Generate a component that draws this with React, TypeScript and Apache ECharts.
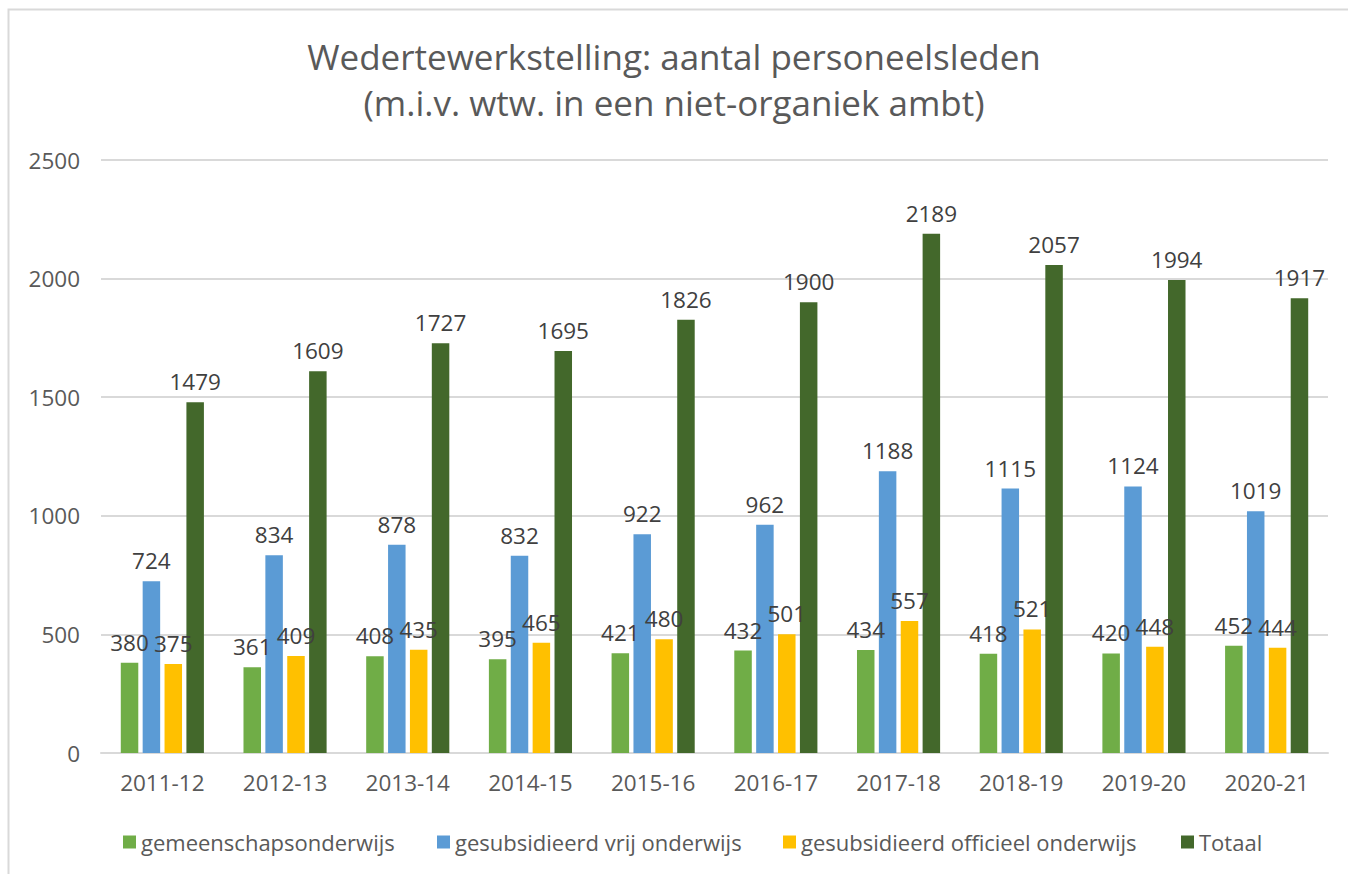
import React, { useEffect, useRef } from "react";
import * as echarts from "echarts";

const categories = ["2011-12", "2012-13", "2013-14", "2014-15", "2015-16", "2016-17", "2017-18", "2018-19", "2019-20", "2020-21"];
const seriesNames = ["gemeenschapsonderwijs", "gesubsidieerd vrij onderwijs", "gesubsidieerd officieel onderwijs", "Totaal"];
const gemeenschap = [380, 361, 408, 395, 421, 432, 434, 418, 420, 452];
const vrij = [724, 834, 878, 832, 922, 962, 1188, 1115, 1124, 1019];
const officieel = [375, 409, 435, 465, 480, 501, 557, 521, 448, 444];
const totaal = [1479, 1609, 1727, 1695, 1826, 1900, 2189, 2057, 1994, 1917];
const colors = ["#70AD47", "#5B9BD5", "#FFC000", "#43682B"];
const yTicks = { min: 0, max: 2500, interval: 500 };

const FONT = "Open Sans";
const TEXT = "#595959";

export default function App() {
  const ref = useRef<HTMLDivElement>(null);
  useEffect(() => {
    document.body.style.margin = "0";
    const chart = echarts.init(ref.current!, null, { renderer: "svg" });
    const values = [gemeenschap, vrij, officieel, totaal];
    const legendX = [118, 432, 778, 1176];
    chart.setOption({
      animation: false,
      backgroundColor: "#fff",
      textStyle: { fontFamily: FONT },
      title: {
        text: "Wedertewerkstelling: aantal personeelsleden\n(m.i.v. wtw. in een niet-organiek ambt)",
        left: "center",
        top: 28,
        textStyle: { fontFamily: FONT, fontSize: 35, fontWeight: "normal", color: TEXT, lineHeight: 46 },
      },
      graphic: [
        { type: "rect", shape: { x: 8.5, y: 9.5, width: 1400, height: 1000 }, style: { fill: "none", stroke: "#d9d9d9", lineWidth: 2 }, silent: true },
      ],
      legend: seriesNames.map((n, i) => ({
        data: [n],
        left: legendX[i],
        top: 826,
        itemWidth: 13,
        itemHeight: 13,
        itemGap: 0,
        icon: "rect",
        textStyle: { fontFamily: FONT, fontSize: 22, color: TEXT },
      })),
      grid: { left: 101, right: 20, top: 160, bottom: 121, containLabel: false },
      xAxis: {
        type: "category",
        data: categories,
        axisLine: { lineStyle: { color: "#d9d9d9", width: 2 } },
        axisTick: { show: false },
        axisLabel: { fontFamily: FONT, fontSize: 22.5, color: TEXT, margin: 18 },
      },
      yAxis: {
        type: "value",
        min: yTicks.min,
        max: yTicks.max,
        interval: yTicks.interval,
        axisLine: { show: false },
        axisTick: { show: false },
        axisLabel: { fontFamily: FONT, fontSize: 22.5, color: TEXT, margin: 21, formatter: (v: number) => String(v) },
        splitLine: { lineStyle: { color: "#d9d9d9", width: 2 } },
      },
      series: seriesNames.map((n, i) => ({
        name: n,
        type: "bar",
        data: values[i],
        barWidth: 17.5,
        barGap: "25%",
        itemStyle: { color: colors[i] },
        label: {
          show: true,
          position: "top",
          distance: 9,
          fontFamily: FONT,
          fontSize: 22.5,
          color: "#404040",
        },
      })),
    });
    return () => chart.dispose();
  }, []);
  return <div ref={ref} style={{ width: 1348, height: 874 }} />;
}
